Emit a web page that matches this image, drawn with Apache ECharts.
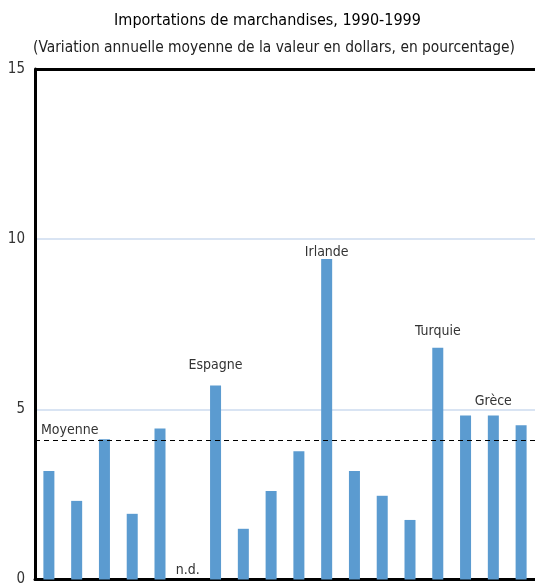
<!DOCTYPE html>
<html>
<head>
<meta charset="utf-8">
<script src="https://cdn.jsdelivr.net/npm/echarts@6/dist/echarts.min.js"></script>
<style>
  html, body { margin: 0; padding: 0; background: #fff; }
  #chart { width: 535px; height: 587px; }
</style>
</head>
<body>
<div id="chart"></div>
<script>
// one bar per country, only some are named on the chart
const categories = ["p1", "p2", "p3", "p4", "p5", "p6", "Espagne", "p8", "p9", "p10",
  "Irlande", "p12", "p13", "p14", "Turquie", "p16", "Grèce", "p18"];
const barLabels = ["", "", "", "", "", "n.d.", "Espagne", "", "", "",
  "Irlande", "", "", "", "Turquie", "", "Grèce", ""];
const values = [3.19, 2.31, 4.12, 1.93, 4.44, null, 5.70, 1.49, 2.60, 3.77,
  9.42, 3.19, 2.46, 1.75, 6.81, 4.82, 4.82, 4.53];
const moyenne = 4.09;
const yTicks = [0, 5, 10, 15];

const font = "'DejaVu Sans Condensed', 'Liberation Sans', sans-serif";

// labels were placed by hand in the original, so gaps differ a bit
const labelGap = { "n.d.": 2, Espagne: 13, Irlande: 0, Turquie: 9, "Grèce": 7 };

let chart = echarts.init(document.getElementById("chart"));

let barData = values.map((v, i) => {
  let name = barLabels[i];
  let label = { show: name !== "", formatter: name };
  if (name) label.distance = labelGap[name];
  // n.d. : no value, just the label sitting on the axis
  return { value: v === null ? 0 : v, label: label };
});

let option = {
  animation: false,
  textStyle: { fontFamily: font },
  title: [
    {
      text: "Importations de marchandises, 1990-1999",
      left: "center",
      top: 8,
      textStyle: { fontFamily: font, fontSize: 16, fontWeight: "normal", color: "#000" },
    },
    {
      text: "(Variation annuelle moyenne de la valeur en dollars, en pourcentage)",
      left: 28,
      top: 35,
      textStyle: { fontFamily: font, fontSize: 15.4, fontWeight: "normal", color: "#222" },
    },
  ],
  grid: { left: 35, right: 0, top: 69, bottom: 4 },
  xAxis: {
    type: "category",
    data: categories,
    axisLine: { lineStyle: { color: "#000", width: 3 } },
    axisTick: { show: false },
    axisLabel: { show: false },
  },
  yAxis: {
    type: "value",
    min: yTicks[0],
    max: yTicks[yTicks.length - 1],
    interval: 5,
    axisLine: { show: true, lineStyle: { color: "#000", width: 3 } },
    axisTick: { show: false },
    axisLabel: { color: "#333", fontSize: 15, fontFamily: font, margin: 10 },
    splitLine: { lineStyle: { color: "#d9e4f3", width: 2 } },
  },
  series: [
    {
      type: "bar",
      data: barData,
      barWidth: 11,
      itemStyle: { color: "#5b9bd0" },
      label: {
        position: "top",
        distance: 5,
        color: "#333",
        fontSize: 14,
        fontFamily: font,
      },
      markLine: {
        symbol: "none",
        silent: true,
        data: [
          {
            yAxis: moyenne,
            lineStyle: { color: "#000", type: [5, 4], width: 1 },
            label: {
              show: true,
              formatter: "Moyenne",
              position: "insideStartTop",
              distance: [6, 3],
              color: "#333",
              fontSize: 14,
              fontFamily: font,
            },
          },
          {
            yAxis: yTicks[yTicks.length - 1],
            lineStyle: { color: "#000", type: "solid", width: 3 },
            label: { show: false },
          },
        ],
      },
    },
  ],
};

option && chart.setOption(option);
</script>
</body>
</html>
